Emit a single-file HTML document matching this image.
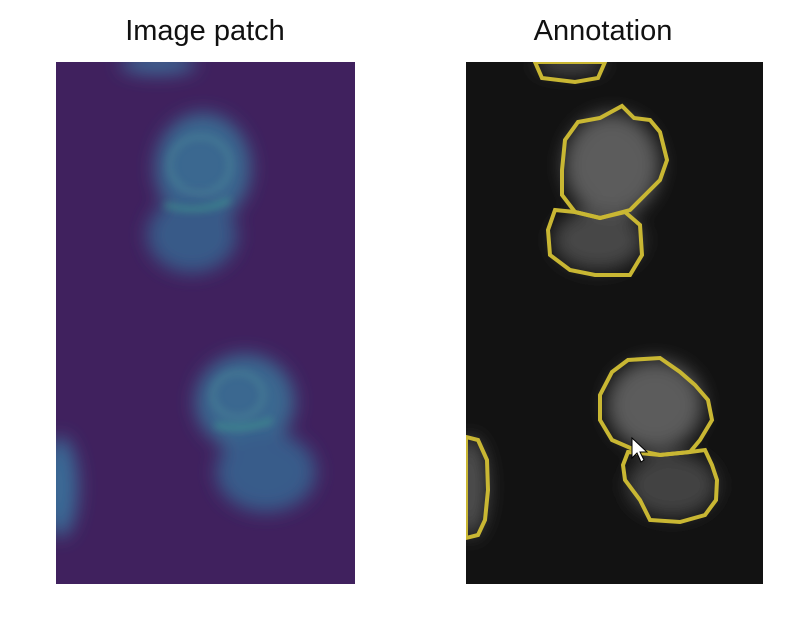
<!DOCTYPE html>
<html><head><meta charset="utf-8"><style>
html,body{margin:0;padding:0;background:#fff;width:809px;height:626px;overflow:hidden}
text{font-family:"Liberation Sans",sans-serif}
</style></head><body>
<svg width="809" height="626" viewBox="0 0 809 626">
<defs>
<filter id="b1" x="-50%" y="-50%" width="200%" height="200%"><feGaussianBlur stdDeviation="9"/></filter>
<filter id="b2" x="-50%" y="-50%" width="200%" height="200%"><feGaussianBlur stdDeviation="4"/></filter>
<clipPath id="cl"><rect x="56" y="62" width="299" height="522"/></clipPath>
<clipPath id="cr"><rect x="466" y="62" width="297" height="522"/></clipPath>
</defs>
<text x="205" y="40" font-size="29" text-anchor="middle" fill="#111">Image patch</text>
<text x="603" y="40" font-size="29" text-anchor="middle" fill="#111">Annotation</text>

<g clip-path="url(#cl)">
<rect x="56" y="62" width="299" height="522" fill="#40215e"/>
<g filter="url(#b1)">
<ellipse cx="158" cy="64" rx="38" ry="10" fill="#3d6a96"/>
<ellipse cx="203" cy="168" rx="48" ry="55" fill="#3a6890"/>
<ellipse cx="192" cy="235" rx="45" ry="38" fill="#395a88"/>
<ellipse cx="245" cy="402" rx="50" ry="48" fill="#3a6890"/>
<ellipse cx="266" cy="472" rx="50" ry="40" fill="#395c8a"/>
<ellipse cx="60" cy="487" rx="18" ry="50" fill="#3b6a96"/>
</g>
<g filter="url(#b2)" fill="none" stroke-width="5" opacity="0.7">
<ellipse cx="200" cy="165" rx="30" ry="28" stroke="#4a8296"/>
<path d="M165 205 Q200 215 230 200" stroke="#3f9d8e"/>
<ellipse cx="238" cy="395" rx="25" ry="22" stroke="#4a8296"/>
<path d="M215 425 Q245 432 272 420" stroke="#3f9d8e"/>
</g>
</g>

<g clip-path="url(#cr)">
<rect x="466" y="62" width="297" height="522" fill="#121212"/>
<g filter="url(#b1)">
<ellipse cx="570" cy="64" rx="35" ry="10" fill="#4a4a4a"/>
<ellipse cx="612" cy="165" rx="48" ry="52" fill="#5c5c5c"/>
<ellipse cx="598" cy="240" rx="45" ry="30" fill="#464646"/>
<ellipse cx="655" cy="405" rx="48" ry="45" fill="#5c5c5c"/>
<ellipse cx="672" cy="485" rx="45" ry="32" fill="#424242"/>
<ellipse cx="470" cy="487" rx="18" ry="50" fill="#4e4e4e"/>
</g>
<g fill="none" stroke="#c9b733" stroke-width="4" stroke-linejoin="miter">
<polygon points="535,62 605,62 598,78 575,82 542,78"/>
<polygon points="578,122 600,118 622,106 634,118 650,120 660,132 667,160 660,180 645,195 630,210 600,218 575,212 562,195 562,170 565,140"/>
<polygon points="555,210 575,212 600,218 625,212 640,225 642,255 630,275 595,275 570,270 550,255 548,230"/>
<polygon points="612,372 628,360 660,358 680,372 695,385 708,400 712,420 700,440 690,452 660,455 635,450 612,440 600,420 600,395"/>
<polygon points="628,452 660,455 690,452 705,450 712,465 717,480 716,500 705,515 680,522 650,520 640,500 625,480 623,465"/>
<polygon points="466,437 478,440 487,460 488,490 485,520 478,535 466,538"/>
</g>
<path d="M632 438 L632 458 L637 453 L641 462 L644 460 L640 452 L647 452 Z" fill="#fff" stroke="#000" stroke-width="1"/>
</g>
</svg>
</body></html>
